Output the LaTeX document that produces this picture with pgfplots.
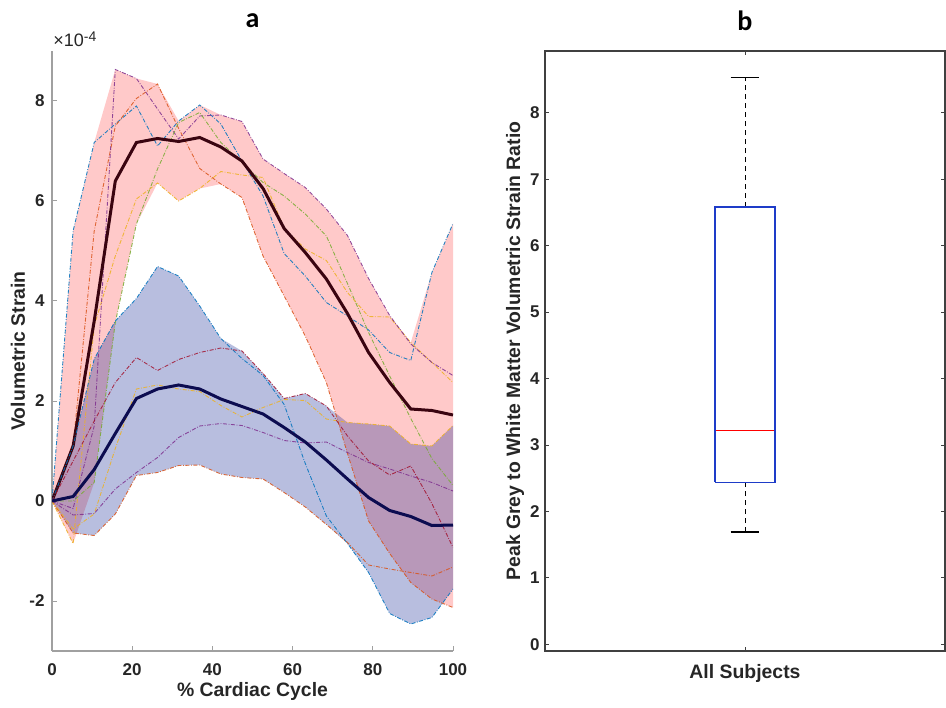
\documentclass[border=0pt]{standalone}
\usepackage{fontspec}
\setmainfont{Liberation Sans}
\newfontfamily\titlefont{Carlito}
\usepackage{pgfplots}
\usepackage{pgfplotstable}
\pgfplotsset{compat=1.18}
\usepgfplotslibrary{fillbetween}

% matlab default line colours
\definecolor{mblue}{rgb}{0,0.447,0.741}
\definecolor{morange}{rgb}{0.85,0.325,0.098}
\definecolor{myellow}{rgb}{0.929,0.694,0.125}
\definecolor{mpurple}{rgb}{0.494,0.184,0.556}
\definecolor{mgreen}{rgb}{0.466,0.674,0.188}
\definecolor{mdred}{rgb}{0.635,0.078,0.184}
\definecolor{greymean}{RGB}{58,4,16}
\definecolor{whitemean}{RGB}{12,12,80}
\definecolor{bandblue}{RGB}{20,40,150}
\definecolor{axgray}{RGB}{160,160,160}
\definecolor{boxgray}{RGB}{64,64,64}
\definecolor{labgray}{RGB}{38,38,38}
\definecolor{boxblue}{RGB}{30,60,200}

\newcommand\tickfont{\fontsize{8.5}{10}\selectfont\bfseries}
\newcommand\labfont{\fontsize{9.7}{11}\selectfont\bfseries}
\newcommand\ttlfont{\titlefont\fontsize{14}{16}\selectfont\bfseries}

% grey matter: five subjects (b o y p g), mean, envelope
\pgfplotstableread{
x      b     o     y     p     g     m     up    lo
0      0     0     0     0     0     0     0     0
5.263  5.40  1.10 -0.85 -0.15  0.00  1.10  5.40 -0.85
10.526 7.17  5.40  3.50  1.50  0.37  3.60  7.17  0.37
15.789 7.54  7.50  4.90  8.63  3.57  6.40  8.63  3.57
21.053 7.90  8.05  6.04  8.45  5.54  7.17  8.45  5.54
26.316 7.10  8.34  6.36  7.84  6.64  7.25  8.34  6.36
31.579 7.60  7.45  6.00  7.24  7.57  7.19  7.60  6.00
36.842 7.92  6.65  6.25  7.70  7.77  7.27  7.92  6.25
42.105 7.54  6.34  6.59  7.72  7.17  7.08  7.72  6.34
47.368 6.80  6.07  6.52  7.59  6.77  6.80  7.59  6.07
52.632 6.10  4.90  6.47  6.84  6.37  6.25  6.84  4.90
57.895 4.95  4.10  5.45  6.55  6.10  5.45  6.55  4.10
63.158 4.50  3.30  5.04  6.27  5.74  4.97  6.27  3.30
68.421 3.97  2.37  4.81  5.84  5.30  4.44  5.84  2.37
73.684 3.70  0.95  4.17  5.31  4.35  3.75  5.31  0.95
78.947 3.42 -0.40  3.69  4.45  3.37  2.97  4.45 -0.40
84.211 2.97 -1.05  3.68  3.71  2.50  2.37  3.71 -1.05
89.474 2.81 -1.63  3.17  3.14  1.65  1.84  3.17 -1.63
94.737 4.57 -1.96  2.77  2.77  0.85  1.81  4.57 -1.96
100    5.55 -2.13  2.37  2.51  0.31  1.72  5.55 -2.13
}\greytab

% white matter: five subjects (b o y p r), mean, envelope
\pgfplotstableread{
x      b     o     y     p     r     m     up    lo
0      0     0     0     0     0     0     0     0
5.263  1.10 -0.64 -0.56 -0.28  0.80  0.09  1.10 -0.64
10.526 2.84 -0.69 -0.26 -0.25  1.60  0.63  2.84 -0.69
15.789 3.60 -0.26  1.05  0.24  2.37  1.35  3.60 -0.26
21.053 4.05  0.51  2.24  0.57  2.87  2.05  4.05  0.51
26.316 4.69  0.57  2.32  0.87  2.61  2.24  4.69  0.57
31.579 4.50  0.71  2.24  1.27  2.83  2.32  4.50  0.71
36.842 3.90  0.72  2.19  1.50  2.97  2.24  3.90  0.72
42.105 3.25  0.54  1.91  1.55  3.06  2.04  3.25  0.54
47.368 2.85  0.47  1.68  1.51  3.00  1.89  3.00  0.47
52.632 2.51  0.44  1.87  1.37  2.55  1.74  2.55  0.44
57.895 1.93  0.17  2.03  1.21  2.05  1.47  2.05  0.17
63.158 0.75 -0.12  2.01  1.16  2.15  1.18  2.15 -0.12
68.421 -0.30 -0.47 1.64  1.18  1.90  0.82  1.90 -0.47
73.684 -0.85 -0.83 1.57  0.97  1.30  0.44  1.57 -0.85
78.947 -1.43 -1.28 1.54  0.77  0.80  0.07  1.54 -1.43
84.211 -2.25 -1.36 1.50  0.64  0.52 -0.19  1.50 -2.25
89.474 -2.46 -1.43 1.14  0.50  0.70 -0.31  1.14 -2.46
94.737 -2.33 -1.50 1.10  0.37 -0.05 -0.49  1.10 -2.33
100    -1.76 -1.32 1.51  0.20 -0.93 -0.48  1.51 -1.76
}\whitetab

\pgfplotsset{
  subj/.style={line width=0.45pt, draw opacity=0.85, dash pattern=on 2pt off 0.8pt on 0.4pt off 0.8pt},
}

\begin{document}
\begin{tikzpicture}

% ---- panel a ----
\begin{axis}[
  at={(0pt,0pt)}, anchor=south west,
  width=200.5pt, height=300pt, scale only axis,
  xmin=0, xmax=100, ymin=-3, ymax=9,
  clip mode=individual,
  axis x line=bottom, axis y line=left,
  axis line style={-, draw=axgray, line width=0.6pt},
  tick align=inside, major tick length=2.5pt,
  tick style={draw=axgray, line width=0.5pt},
  xtick={0,20,40,60,80,100}, xticklabels={0,20,40,60,80,100},
  ytick={-2,0,2,4,6,8}, yticklabels={-2,0,2,4,6,8},
  ticklabel style={font=\tickfont, text=labgray},
  xticklabel style={inner sep=0pt, anchor=north, yshift=-6pt},
  yticklabel style={inner sep=0pt, anchor=east, xshift=-3.5pt},
  xlabel={\% Cardiac Cycle}, ylabel={Volumetric Strain},
  label style={font=\labfont, text=labgray, inner sep=0pt},
  xlabel style={at={(axis description cs:0.5,-0.068)}, anchor=center},
  ylabel style={at={(axis description cs:-0.085,0.5)}, anchor=center},
  title={a},
  title style={font=\ttlfont, inner sep=0pt, at={(axis description cs:0.5,1.03)}, anchor=center},
]
\addplot[draw=none, name path=gu] table[x=x, y=up] {\greytab};
\addplot[draw=none, name path=gl] table[x=x, y=lo] {\greytab};
\addplot[fill=red, fill opacity=0.21, draw=none] fill between[of=gu and gl];

\addplot[subj, mblue]   table[x=x, y=b] {\greytab};
\addplot[subj, morange] table[x=x, y=o] {\greytab};
\addplot[subj, myellow] table[x=x, y=y] {\greytab};
\addplot[subj, mpurple] table[x=x, y=p] {\greytab};
\addplot[subj, mgreen]  table[x=x, y=g] {\greytab};
\addplot[greymean, line width=1.5pt] table[x=x, y=m] {\greytab};

\addplot[draw=none, name path=wu] table[x=x, y=up] {\whitetab};
\addplot[draw=none, name path=wl] table[x=x, y=lo] {\whitetab};
\addplot[fill=bandblue, fill opacity=0.3, draw=none] fill between[of=wu and wl];

\addplot[subj, mblue]   table[x=x, y=b] {\whitetab};
\addplot[subj, morange] table[x=x, y=o] {\whitetab};
\addplot[subj, myellow] table[x=x, y=y] {\whitetab};
\addplot[subj, mpurple] table[x=x, y=p] {\whitetab};
\addplot[subj, mdred]   table[x=x, y=r] {\whitetab};
\addplot[whitemean, line width=1.5pt] table[x=x, y=m] {\whitetab};

\node[anchor=base west, inner sep=0pt, xshift=0.5pt, yshift=2pt,
      font=\fontsize{9}{10}\selectfont, text=labgray]
  at (rel axis cs:0,1) {×10\raisebox{0.6ex}{\fontsize{7}{8}\selectfont -4}};
\end{axis}

% ---- panel b ----
\begin{axis}[
  at={(246.5pt,0pt)}, anchor=south west,
  width=200pt, height=300pt, scale only axis,
  xmin=0.5, xmax=1.5, ymin=-0.1, ymax=8.93,
  axis line style={draw=boxgray, line width=0.6pt},
  tick align=inside, major tick length=2pt,
  tick style={draw=boxgray, line width=0.5pt},
  xtick pos=both, ytick pos=both,
  xticklabel pos=lower, yticklabel pos=left,
  xtick={1}, xticklabels={All Subjects},
  ytick={0,1,2,3,4,5,6,7,8}, yticklabels={0,1,2,3,4,5,6,7,8},
  yticklabel style={font=\tickfont, text=labgray, inner sep=0pt, anchor=east, xshift=-2.5pt},
  xticklabel style={font=\labfont, text=labgray, inner sep=0pt, anchor=north, yshift=-6.5pt},
  ylabel={Peak Grey to White Matter Volumetric Strain Ratio},
  ylabel style={font=\labfont, text=labgray, inner sep=0pt, at={(axis description cs:-0.075,0.5)}, anchor=center},
  title={b},
  title style={font=\ttlfont, inner sep=0pt, at={(axis description cs:0.5,1.03)}, anchor=center},
]
% box plot: whiskers 1.69 / 8.53, quartiles 2.44 / 6.58, median 3.22
\addplot[black, line width=0.5pt, dash pattern=on 2.5pt off 2pt] coordinates {(1,6.58) (1,8.53)};
\addplot[black, line width=0.5pt, dash pattern=on 2.5pt off 2pt] coordinates {(1,1.69) (1,2.44)};
\addplot[black, line width=0.6pt] coordinates {(0.964,8.53) (1.036,8.53)};
\addplot[black, line width=0.6pt] coordinates {(0.964,1.69) (1.036,1.69)};
\addplot[boxblue, line width=0.7pt] coordinates {(0.925,2.44) (1.075,2.44) (1.075,6.58) (0.925,6.58) (0.925,2.44)};
\addplot[draw=red, line width=0.8pt] coordinates {(0.927,3.22) (1.073,3.22)};
\end{axis}

% page frame matching the reference's extent
\path (-26pt,-28pt) rectangle (447pt,325.5pt);
\end{tikzpicture}
\end{document}
